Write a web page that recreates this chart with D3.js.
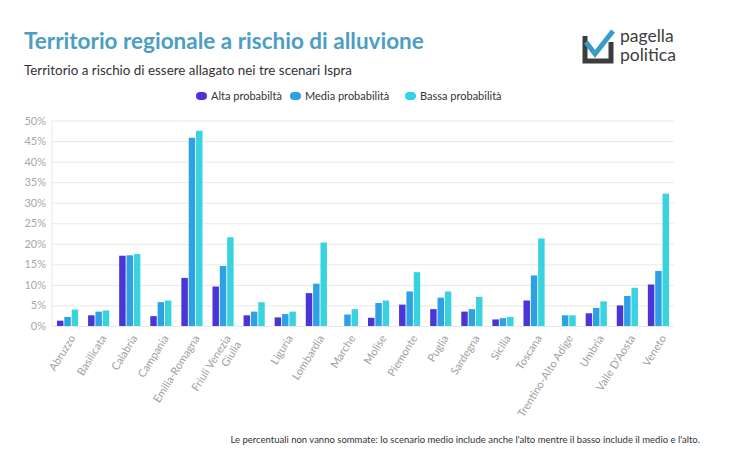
<!DOCTYPE html>
<html>
<head>
<meta charset="utf-8">
<script src="https://cdn.jsdelivr.net/npm/d3@7"></script>
<style>
  html, body { margin: 0; padding: 0; background: #fff; }
  svg { display: block; font-family: Lato, "Noto Sans", sans-serif; }
</style>
</head>
<body>
<svg id="chart" width="740" height="450"></svg>
<script>
const categories = ["Abruzzo","Basilicata","Calabria","Campania","Emilia-Romagna","Friuli Venezia Giulia","Lazio","Liguria","Lombardia","Marche","Molise","Piemonte","Puglia","Sardegna","Sicilia","Toscana","Trentino-Alto Adige","Umbria","Valle D'Aosta","Veneto"];
// Tick labels as shown in the picture (Lazio label hidden in the original)
const tickLabels = [["Abruzzo"],["Basilicata"],["Calabria"],["Campania"],["Emilia-Romagna"],["Friuli Venezia","Giulia"],[],["Liguria"],["Lombardia"],["Marche"],["Molise"],["Piemonte"],["Puglia"],["Sardegna"],["Sicilia"],["Toscana"],["Trentino-Alto Adige"],["Umbria"],["Valle D'Aosta"],["Veneto"]];
const seriesNames = ["Alta probabiltà","Media probabilità","Bassa probabilità"];
const alta  = [1.3, 2.6, 17.1, 2.4, 11.7, 9.6, 2.6, 2.1, 8.0, 0,   2.0, 5.2, 4.1, 3.5, 1.6, 6.2, 0,   3.1, 5.0, 10.1];
const media = [2.2, 3.5, 17.2, 5.8, 45.8, 14.6, 3.5, 2.9, 10.3, 2.8, 5.6, 8.4, 6.9, 4.1, 1.9, 12.3, 2.6, 4.4, 7.3, 13.4];
const bassa = [4.0, 3.8, 17.5, 6.2, 47.5, 21.6, 5.8, 3.5, 20.3, 4.1, 6.2, 13.1, 8.4, 7.1, 2.2, 21.3, 2.6, 6.0, 9.3, 32.2];
const yTicks = [0,5,10,15,20,25,30,35,40,45,50];
const colors = ["#4a36d8", "#2ea0e4", "#39d2df"];

const series = [alta, media, bassa];
const svg = d3.select("#chart");

// Title
svg.append("text").attr("x", 24).attr("y", 49)
  .attr("font-size", 22.5).attr("font-weight", 700).attr("fill", "#4c9ec3")
  .text("Territorio regionale a rischio di alluvione");
svg.append("text").attr("x", 24).attr("y", 75)
  .attr("font-size", 13.4).attr("fill", "#333")
  .text("Territorio a rischio di essere allagato nei tre scenari Ispra");

// Logo
const logo = svg.append("g").attr("transform", "translate(583,28)");
logo.append("path").attr("d", "M2,8 V33 H28 V14").attr("fill","none").attr("stroke","#3d3d3d").attr("stroke-width",5);
logo.append("path").attr("d", "M3,14 L12,26 L30,3").attr("fill","none").attr("stroke","#3a9cc4").attr("stroke-width",5);
logo.append("text").attr("x", 37).attr("y", 14).attr("font-size", 17.5).attr("fill","#3d3d3d").text("pagella");
logo.append("text").attr("x", 37).attr("y", 33).attr("font-size", 17.5).attr("fill","#3d3d3d").text("politica");

// Legend
const legendX = [196, 290, 405];
const legend = svg.append("g");
seriesNames.forEach((n, i) => {
  const g = legend.append("g").attr("transform", `translate(${legendX[i]},96)`);
  g.append("rect").attr("x", 0).attr("y", -4).attr("width", 11).attr("height", 8).attr("rx", 4).attr("fill", colors[i]);
  g.append("text").attr("x", 15).attr("y", 4).attr("font-size", 11).attr("fill", "#333").text(n);
});

// Scales
const margin = {left: 52, right: 674, top: 120.5, bottom: 326};
const x0 = d3.scaleBand().domain(categories).range([margin.left, margin.right]).paddingInner(0.32).paddingOuter(0.16);
const x1 = d3.scaleBand().domain([0,1,2]).range([0, x0.bandwidth()]).paddingInner(0.12);
const y = d3.scaleLinear().domain([0, 50]).range([margin.bottom, margin.top]);

// Grid
const yAxis = d3.axisLeft(y).tickValues(yTicks).tickFormat(d => d + "%").tickSize(-(margin.right - margin.left)).tickPadding(6);
const ga = svg.append("g").attr("transform", `translate(${margin.left},0)`).call(yAxis);
ga.select(".domain").remove();
ga.selectAll(".tick line").attr("stroke", "#e8e8e8");
ga.selectAll(".tick text").attr("font-size", 11).attr("fill", "#a8a8a8").attr("font-family", "Lato, sans-serif");
svg.append("line").attr("x1", margin.left).attr("x2", margin.left).attr("y1", margin.top).attr("y2", margin.bottom).attr("stroke", "#e8e8e8");

// Bars
categories.forEach((c, ci) => {
  series.forEach((s, si) => {
    if (s[ci] <= 0) return;
    svg.append("rect")
      .attr("x", x0(c) + x1(si))
      .attr("y", y(s[ci]))
      .attr("width", x1.bandwidth())
      .attr("height", y(0) - y(s[ci]))
      .attr("fill", colors[si]);
  });
});

// X labels
categories.forEach((c, ci) => {
  const lines = tickLabels[ci];
  if (!lines.length) return;
  const cx = x0(c) + x0.bandwidth() / 2;
  const t = svg.append("text")
    .attr("transform", `translate(${cx + 5},${margin.bottom + 10}) rotate(-58)`)
    .attr("text-anchor", "end").attr("font-size", 11).attr("fill", "#a0a0a0");
  lines.forEach((l, li) => {
    t.append("tspan").attr("x", 0).attr("dy", li === 0 ? "0.35em" : "1.1em").text(l);
  });
});

// Footnote
svg.append("text").attr("x", 700).attr("y", 443).attr("text-anchor", "end")
  .attr("font-size", 9.5).attr("fill", "#333")
  .text("Le percentuali non vanno sommate: lo scenario medio include anche l'alto mentre il basso include il medio e l'alto.");
</script>
</body>
</html>
